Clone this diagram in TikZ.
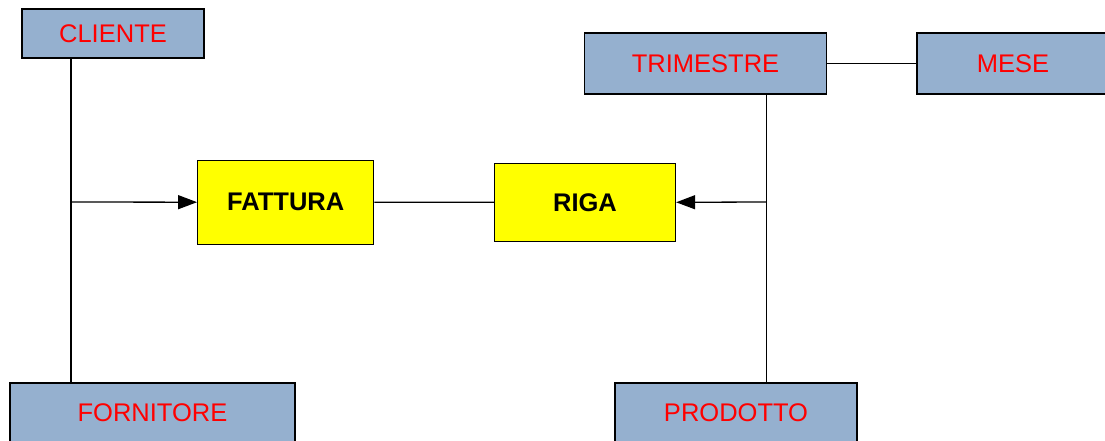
\documentclass[tikz,border=0pt]{standalone}
\usepackage{fontspec}
\setmainfont{Liberation Sans}
\usetikzlibrary{arrows.meta}
\definecolor{dimblue}{HTML}{95B0CF}
\definecolor{factyellow}{RGB}{255,255,0}
\tikzset{
  dimbox/.style={draw=black, line width=1.3pt, fill=dimblue, text=red,
    font=\fontsize{25.5}{30}\selectfont, inner sep=0pt, anchor=center},
  factbox/.style={draw=black, line width=1.3pt, fill=factyellow, text=black,
    font=\fontsize{25.5}{30}\selectfont\bfseries, inner sep=0pt, anchor=center},
  link/.style={draw=black, line width=1.3pt},
  arrowlink/.style={link, -{Triangle[length=19pt, width=14pt]}}
}
\begin{document}
\begin{tikzpicture}[x=1pt, y=-1pt]
  \useasboundingbox (0,0) rectangle (1105,441);
  \clip (0,0) rectangle (1105,441);
  \fill[white] (0,0) rectangle (1105,441);

  % dimension boxes
  \node[dimbox, minimum width=182pt, minimum height=49pt] (cliente) at (113,33.5) {CLIENTE};
  \node[dimbox, minimum width=242pt, minimum height=61pt] (trimestre) at (705.5,63.5) {TRIMESTRE};
  \node[dimbox, minimum width=192pt, minimum height=61pt] (mese) at (1013,63.5) {MESE};
  \node[dimbox, minimum width=285pt, minimum height=60pt] (fornitore) at (152.5,413) {FORNITORE};
  \node[dimbox, minimum width=242pt, minimum height=60pt] (prodotto) at (736,413) {PRODOTTO};

  % fact boxes
  \node[factbox, minimum width=176pt, minimum height=84pt] (fattura) at (285.7,202.2) {FATTURA};
  \node[factbox, minimum width=181pt, minimum height=78pt] (riga) at (585,202.3) {RIGA};

  % junction points on the vertical hierarchy lines
  \coordinate (jl) at (71,202);
  \coordinate (jr) at (766.5,202);

  % connectors
  \draw[link] (cliente.south -| jl) -- (fornitore.north -| jl);
  \draw[arrowlink] (jl) -- (fattura.west);
  \draw[link] (fattura.east) -- (riga.west);
  \draw[link] (trimestre.south -| jr) -- (prodotto.north -| jr);
  \draw[arrowlink] (jr) -- (riga.east);
  \draw[link] (trimestre.east) -- (mese.west);
\end{tikzpicture}
\end{document}
